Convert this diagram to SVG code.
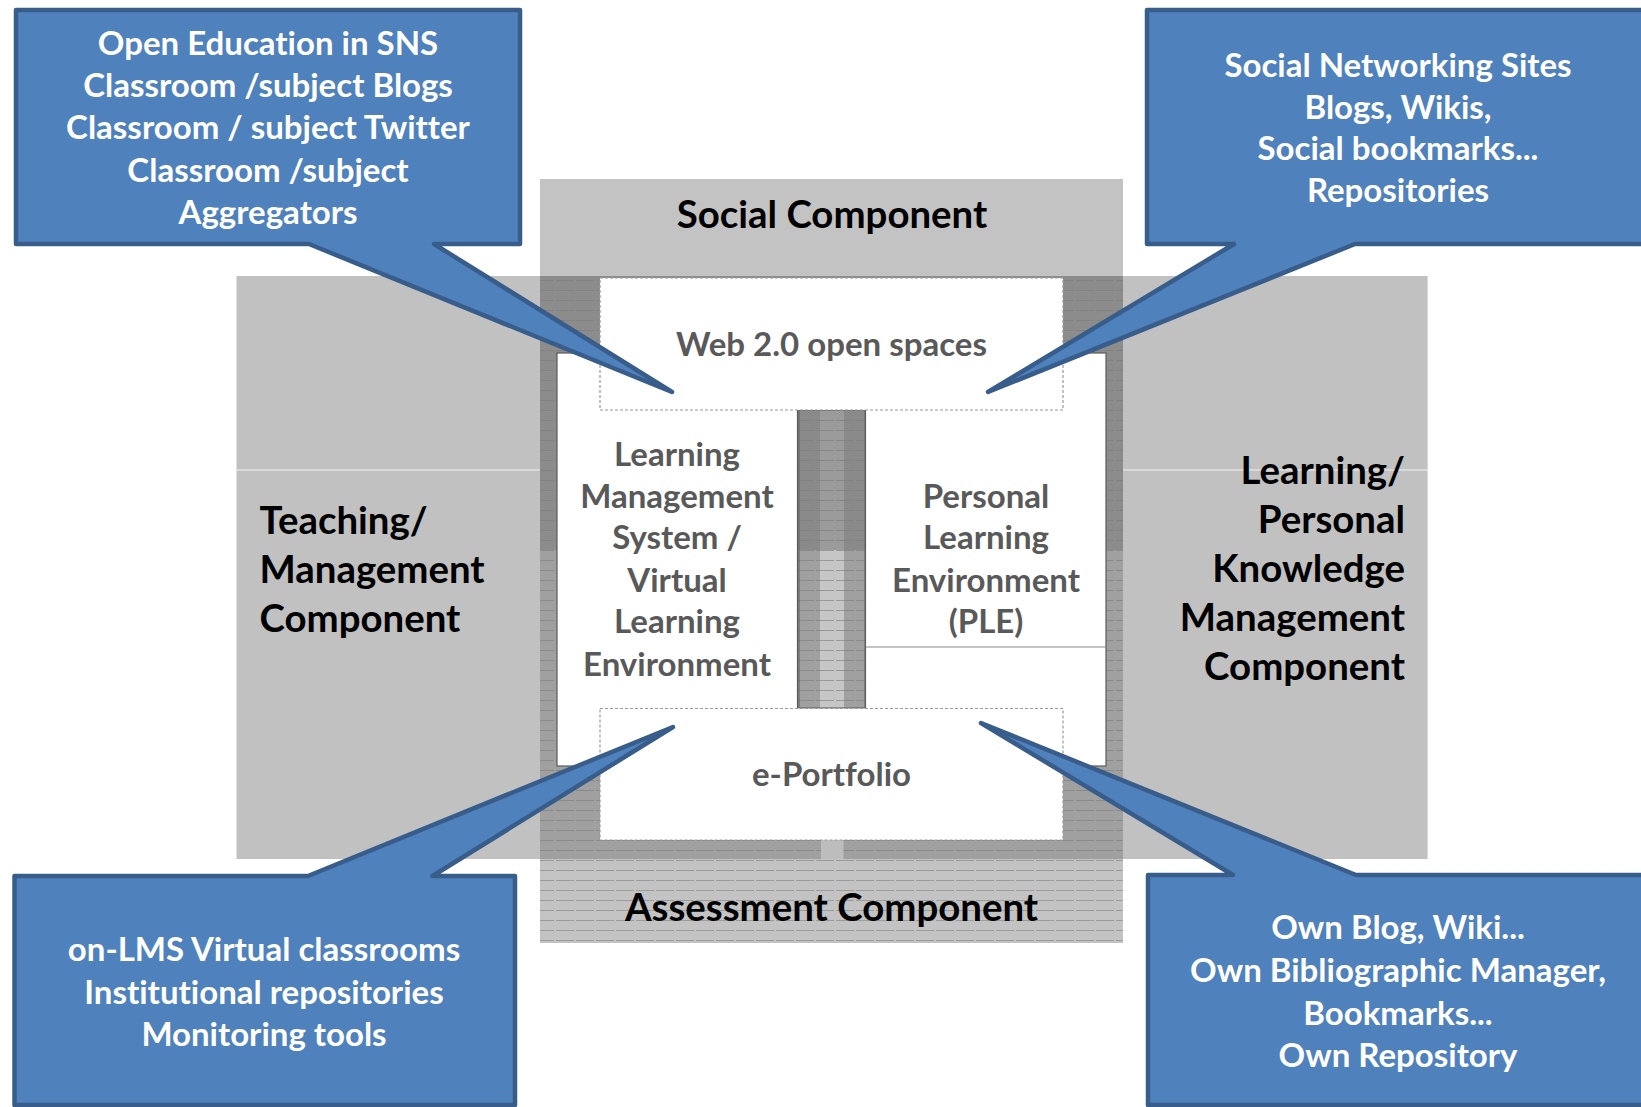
<svg xmlns="http://www.w3.org/2000/svg" width="1641" height="1107" viewBox="0 0 1641 1107">
<style>
text{font-variant-ligatures:none}
.lbl{font-family:Lato,"Liberation Sans",sans-serif;font-weight:bold;fill:#000;font-size:38.4px}
.inner{font-family:Lato,"Liberation Sans",sans-serif;font-weight:bold;fill:#595959;font-size:33px;text-anchor:middle}
.ct{font-family:Lato,"Liberation Sans",sans-serif;font-weight:bold;fill:#fff;font-size:33px;text-anchor:middle}
.callout{fill:#4F81BD;stroke:#385D8A;stroke-width:4.5;stroke-linejoin:round}
.wbox{fill:#fff;stroke:#5a5a5a;stroke-width:1.2}
.dbox{fill:#fff;stroke:#9a9a9a;stroke-width:1.2;stroke-dasharray:3 2}
</style>
<defs>
<pattern id="hl" width="20" height="10" patternUnits="userSpaceOnUse">
<line x1="0" y1="0.5" x2="20" y2="0.5" stroke="#7c7c7c" stroke-width="1" stroke-dasharray="14 2"/>
</pattern>
<pattern id="hl2" width="20" height="10" patternUnits="userSpaceOnUse">
<line x1="0" y1="0.5" x2="20" y2="0.5" stroke="#9c9c9c" stroke-width="1" stroke-dasharray="14 2"/>
</pattern>
</defs>
<rect width="1641" height="1107" fill="#fff"/>

<g id="social-assessment-band">
<rect x="540" y="179" width="583" height="764" fill="#C3C3C3"/>
</g>
<g id="teaching-component">
<rect x="236.5" y="276" width="303.5" height="583" fill="#C1C1C1"/>
<line x1="236.5" y1="470" x2="540" y2="470" stroke="#f2f2f2" stroke-width="1.2"/>
<text class="lbl" x="259.5" y="534">Teaching/</text>
<text class="lbl" x="259.5" y="583">Management</text>
<text class="lbl" x="259.5" y="632">Component</text>
</g>
<g id="learning-component">
<rect x="1123" y="276" width="304.6" height="583" fill="#C1C1C1"/>
<line x1="1123" y1="470" x2="1427.6" y2="470" stroke="#f2f2f2" stroke-width="1.2"/>
<text class="lbl" x="1405" y="484" text-anchor="end">Learning/</text>
<text class="lbl" x="1405" y="533" text-anchor="end">Personal</text>
<text class="lbl" x="1405" y="582" text-anchor="end">Knowledge</text>
<text class="lbl" x="1405" y="631" text-anchor="end">Management</text>
<text class="lbl" x="1405" y="680" text-anchor="end">Component</text>
</g>
<g id="overlap">
<rect x="540" y="276" width="583" height="274" fill="#8C8C8C"/>
<rect x="540" y="550" width="583" height="309" fill="#A0A0A0"/>
<rect x="540" y="276" width="583" height="583" fill="url(#hl)" opacity="0.6"/>
<rect x="540" y="859" width="583" height="84" fill="url(#hl2)"/>
<rect x="821" y="840" width="22.5" height="19" fill="#BDBDBD"/>
</g>
<g id="social-component">
<text class="lbl" x="832" y="228" text-anchor="middle">Social Component</text>
</g>
<g id="assessment-component">
<text class="lbl" x="831.5" y="921" text-anchor="middle">Assessment Component</text>
</g>

<g id="lms">
<rect class="wbox" x="557" y="353" width="240.5" height="413"/>
<text class="inner" x="677" y="466">Learning</text>
<text class="inner" x="677" y="508">Management</text>
<text class="inner" x="677" y="549">System /</text>
<text class="inner" x="677" y="592">Virtual</text>
<text class="inner" x="677" y="633">Learning</text>
<text class="inner" x="677" y="676">Environment</text>
</g>
<g id="ple">
<rect class="wbox" x="865.5" y="353" width="240.5" height="413"/>
<line x1="865.5" y1="647" x2="1106" y2="647" stroke="#8a8a8a" stroke-width="1.2"/>
<text class="inner" x="986" y="508">Personal</text>
<text class="inner" x="986" y="549">Learning</text>
<text class="inner" x="986" y="592">Environment</text>
<text class="inner" x="986" y="633">(PLE)</text>
</g>
<g id="center-strip">
<rect x="799" y="410" width="66" height="140" fill="#8A8A8A"/>
<rect x="820" y="410" width="24" height="140" fill="#9B9B9B"/>
<rect x="799" y="550" width="66" height="158" fill="#A0A0A0"/>
<rect x="820" y="550" width="24" height="158" fill="#C6C6C6"/>
<rect x="799" y="410" width="66" height="298" fill="url(#hl)" opacity="0.6"/>
<rect x="799" y="410" width="66" height="298" fill="none" stroke="#666" stroke-width="1.2"/>
</g>
<g id="web20">
<rect class="dbox" x="600" y="278" width="463" height="132"/>
<text class="inner" x="831.5" y="356">Web 2.0 open spaces</text>
</g>
<g id="eportfolio">
<rect class="dbox" x="600" y="708.5" width="463" height="131.5"/>
<text class="inner" x="831.5" y="786">e-Portfolio</text>
</g>

<g id="callout-top-left">
<path class="callout" d="M16,10 H520 V244 H434 L672,392 L309,244 H16 Z"/>
<text class="ct" x="268" y="55">Open Education in SNS</text>
<text class="ct" x="268" y="97.2">Classroom /subject Blogs</text>
<text class="ct" x="268" y="139.4">Classroom / subject Twitter</text>
<text class="ct" x="268" y="181.6">Classroom /subject</text>
<text class="ct" x="268" y="223.8">Aggregators</text>
</g>
<g id="callout-top-right">
<path class="callout" d="M1147,10 H1660 V244 H1355 L988,392 L1234,244 H1147 Z"/>
<text class="ct" x="1398" y="77">Social Networking Sites</text>
<text class="ct" x="1398" y="118.5">Blogs, Wikis,</text>
<text class="ct" x="1398" y="160">Social bookmarks...</text>
<text class="ct" x="1398" y="201.5">Repositories</text>
</g>
<g id="callout-bottom-left">
<path class="callout" d="M14.5,876 H308 L673,727 L432.5,876 H515 V1105 H14.5 Z"/>
<text class="ct" x="264" y="961">on-LMS Virtual classrooms</text>
<text class="ct" x="264" y="1003.5">Institutional repositories</text>
<text class="ct" x="264" y="1046">Monitoring tools</text>
</g>
<g id="callout-bottom-right">
<path class="callout" d="M1148,875 H1233 L981,723 L1356,875 H1660 V1105 H1148 Z"/>
<text class="ct" x="1398" y="939">Own Blog, Wiki...</text>
<text class="ct" x="1398" y="982">Own Bibliographic Manager,</text>
<text class="ct" x="1398" y="1024.5">Bookmarks...</text>
<text class="ct" x="1398" y="1067">Own Repository</text>
</g>
</svg>
